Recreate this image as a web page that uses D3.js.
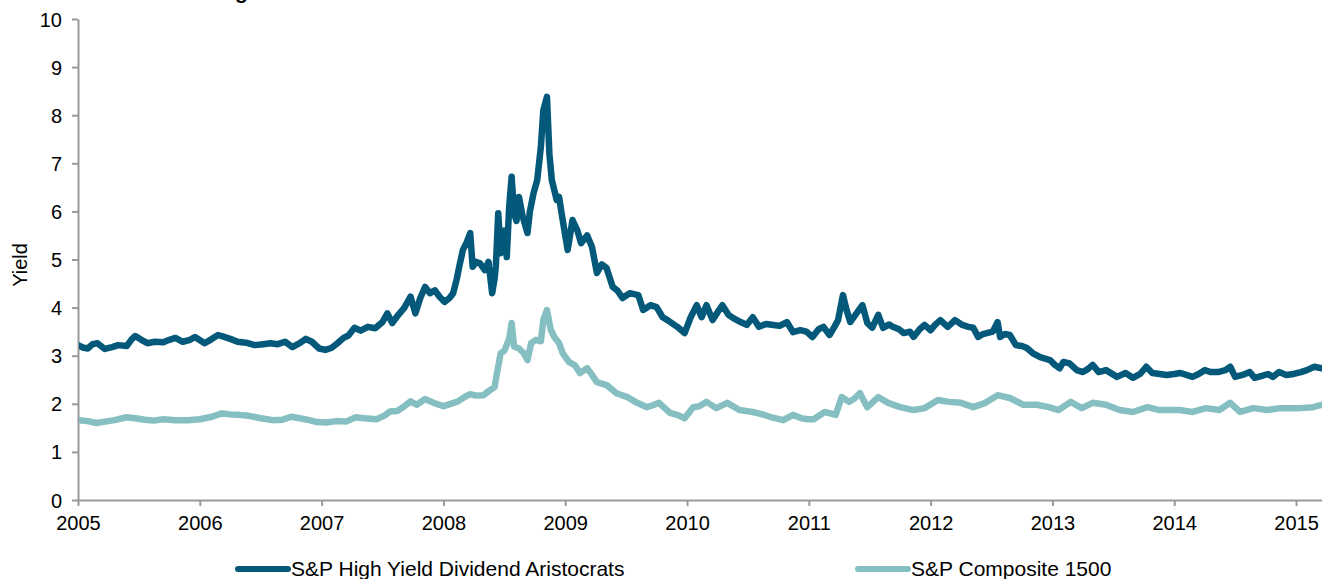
<!DOCTYPE html>
<html><head><meta charset="utf-8">
<script src="https://cdn.jsdelivr.net/npm/d3@7"></script>
<style>
html,body{margin:0;padding:0;background:#fff;overflow:hidden}
text{font-family:"Liberation Sans",Arial,sans-serif;fill:#000}
</style></head>
<body><svg id="c" width="1322" height="579"></svg>
<script>
const seriesNames = ["S&P High Yield Dividend Aristocrats", "S&P Composite 1500"];
const seriesColors = ["#04597a", "#86bfc1"];
const yTicks = [0,1,2,3,4,5,6,7,8,9,10];
const xTicks = [2005,2006,2007,2008,2009,2010,2011,2012,2013,2014,2015];

const hydaDates = [2005.00,2005.04,2005.08,2005.12,2005.16,2005.22,2005.28,2005.33,2005.40,2005.44,2005.47,2005.52,2005.57,2005.63,2005.70,2005.75,2005.80,2005.86,2005.92,2005.96,
2006.04,2006.10,2006.15,2006.20,2006.25,2006.31,2006.38,2006.45,2006.52,2006.58,2006.64,2006.70,2006.76,2006.82,2006.87,2006.92,2006.98,
2007.03,2007.08,2007.13,2007.18,2007.22,2007.27,2007.32,2007.38,2007.44,2007.50,2007.54,2007.58,2007.63,2007.68,2007.73,2007.77,2007.81,2007.85,2007.89,2007.93,2007.97,
2008.01,2008.05,2008.08,2008.11,2008.13,2008.16,2008.19,2008.22,2008.24,2008.27,2008.30,2008.34,2008.37,2008.40,2008.42,2008.43,2008.45,2008.47,2008.50,2008.52,2008.54,2008.56,2008.58,2008.60,2008.62,2008.65,2008.69,2008.71,2008.74,2008.77,2008.80,2008.82,2008.85,2008.87,2008.89,2008.93,2008.95,2008.97,
2009.02,2009.06,2009.10,2009.13,2009.18,2009.22,2009.26,2009.30,2009.34,2009.39,2009.43,2009.47,2009.53,2009.60,2009.64,2009.70,2009.75,2009.80,2009.84,2009.92,2009.98,
2010.03,2010.08,2010.12,2010.16,2010.21,2010.25,2010.29,2010.34,2010.38,2010.44,2010.49,2010.54,2010.59,2010.65,2010.71,2010.76,2010.82,2010.87,2010.93,2010.98,
2011.03,2011.08,2011.12,2011.17,2011.21,2011.24,2011.28,2011.31,2011.34,2011.40,2011.44,2011.48,2011.52,2011.57,2011.61,2011.66,2011.69,2011.74,2011.78,2011.83,2011.86,2011.91,2011.95,
2012.00,2012.04,2012.08,2012.14,2012.20,2012.26,2012.31,2012.35,2012.39,2012.43,2012.46,2012.51,2012.55,2012.57,2012.61,2012.65,2012.70,2012.75,2012.79,2012.84,2012.90,2012.98,
2013.02,2013.06,2013.09,2013.14,2013.20,2013.25,2013.29,2013.33,2013.38,2013.44,2013.53,2013.60,2013.66,2013.72,2013.77,2013.82,2013.88,2013.94,
2014.00,2014.05,2014.10,2014.15,2014.20,2014.25,2014.30,2014.36,2014.42,2014.46,2014.50,2014.56,2014.62,2014.66,2014.72,2014.77,2014.81,2014.86,2014.92,2014.98,
2015.04,2015.09,2015.15,2015.21];
const hydaValues = [3.22,3.17,3.15,3.24,3.26,3.14,3.18,3.22,3.20,3.34,3.41,3.33,3.26,3.29,3.28,3.33,3.37,3.29,3.33,3.39,
3.26,3.35,3.43,3.39,3.35,3.29,3.27,3.22,3.24,3.26,3.24,3.29,3.18,3.26,3.35,3.29,3.15,
3.12,3.16,3.26,3.37,3.42,3.58,3.52,3.60,3.57,3.70,3.88,3.68,3.85,4.00,4.23,3.88,4.20,4.43,4.30,4.36,4.22,
4.12,4.20,4.30,4.60,4.85,5.20,5.35,5.55,4.85,4.95,4.92,4.78,4.95,4.30,4.60,4.85,5.96,5.13,5.60,5.05,6.10,6.72,5.96,5.80,6.30,5.90,5.55,6.00,6.38,6.65,7.34,8.10,8.38,7.20,6.65,6.24,6.30,5.96,
5.20,5.82,5.60,5.34,5.50,5.26,4.72,4.90,4.82,4.43,4.35,4.20,4.30,4.26,3.95,4.05,4.01,3.80,3.74,3.60,3.47,
3.80,4.05,3.80,4.05,3.74,3.90,4.05,3.85,3.78,3.70,3.64,3.80,3.60,3.66,3.64,3.62,3.70,3.49,3.53,3.50,
3.39,3.55,3.60,3.43,3.60,3.74,4.26,3.95,3.70,3.91,4.05,3.68,3.58,3.85,3.58,3.65,3.60,3.55,3.47,3.50,3.39,3.55,3.64,
3.53,3.65,3.74,3.60,3.74,3.64,3.60,3.58,3.39,3.45,3.47,3.50,3.70,3.39,3.45,3.43,3.22,3.20,3.16,3.05,2.97,2.91,
2.81,2.74,2.87,2.84,2.70,2.66,2.72,2.81,2.66,2.70,2.56,2.64,2.54,2.62,2.77,2.64,2.62,2.60,
2.62,2.64,2.60,2.56,2.62,2.70,2.66,2.66,2.70,2.77,2.56,2.60,2.66,2.54,2.58,2.62,2.56,2.66,2.60,2.62,
2.66,2.70,2.77,2.74];

const compDates = [2005.00,2005.08,2005.15,2005.22,2005.30,2005.40,2005.47,2005.55,2005.62,2005.70,2005.80,2005.90,
2006.00,2006.10,2006.18,2006.25,2006.32,2006.40,2006.50,2006.60,2006.68,2006.75,2006.82,2006.90,2006.96,
2007.04,2007.12,2007.20,2007.28,2007.35,2007.45,2007.52,2007.56,2007.62,2007.68,2007.73,2007.78,2007.85,2007.92,
2008.00,2008.06,2008.12,2008.18,2008.22,2008.27,2008.33,2008.38,2008.42,2008.44,2008.47,2008.50,2008.54,2008.56,2008.58,2008.62,2008.66,2008.69,2008.72,2008.76,2008.80,2008.82,2008.85,2008.88,2008.91,2008.95,2008.98,
2009.03,2009.08,2009.12,2009.18,2009.22,2009.26,2009.34,2009.42,2009.51,2009.59,2009.67,2009.72,2009.77,2009.86,2009.93,2009.98,
2010.05,2010.10,2010.16,2010.24,2010.33,2010.43,2010.54,2010.62,2010.68,2010.79,2010.87,2010.94,2010.99,
2011.04,2011.13,2011.22,2011.27,2011.33,2011.37,2011.42,2011.48,2011.57,2011.65,2011.75,2011.86,2011.95,
2012.06,2012.15,2012.25,2012.35,2012.45,2012.55,2012.65,2012.76,2012.87,2012.97,
2013.05,2013.15,2013.24,2013.33,2013.44,2013.55,2013.66,2013.78,2013.88,
2014.04,2014.15,2014.26,2014.37,2014.46,2014.54,2014.65,2014.76,2014.87,
2015.03,2015.14,2015.21];
const compValues = [1.66,1.64,1.60,1.63,1.66,1.72,1.70,1.67,1.65,1.68,1.66,1.66,
1.68,1.73,1.80,1.78,1.77,1.75,1.70,1.66,1.67,1.73,1.70,1.66,1.62,
1.61,1.64,1.63,1.72,1.70,1.68,1.76,1.84,1.85,1.95,2.05,1.98,2.10,2.02,
1.95,2.00,2.05,2.15,2.20,2.17,2.18,2.28,2.35,2.64,3.05,3.10,3.35,3.68,3.19,3.15,3.05,2.91,3.26,3.33,3.30,3.74,3.95,3.55,3.39,3.26,3.05,
2.87,2.80,2.64,2.74,2.60,2.45,2.39,2.22,2.14,2.02,1.93,1.97,2.02,1.81,1.76,1.70,
1.93,1.95,2.04,1.91,2.02,1.87,1.83,1.78,1.73,1.66,1.77,1.70,1.68,
1.68,1.83,1.77,2.14,2.04,2.10,2.22,1.93,2.14,2.02,1.93,1.87,1.91,
2.08,2.04,2.02,1.93,2.02,2.18,2.12,1.98,1.98,1.93,
1.87,2.04,1.91,2.02,1.98,1.87,1.83,1.93,1.87,
1.87,1.83,1.91,1.87,2.02,1.83,1.91,1.87,1.91,
1.91,1.93,1.98];

const svg = d3.select("#c");
const x = d3.scaleLinear().domain([2005, 2015.213]).range([78, 1322]);
const y = d3.scaleLinear().domain([0, 10]).range([500, 19]);

// clipped title (only the descender shows, as in the reference)
svg.append("text").attr("x", 235).attr("y", -1.5)
  .style("font-weight", "bold").style("font-size", "21px").text("g");

const yAxis = svg.append("g").attr("transform", "translate(78,0)")
  .call(d3.axisLeft(y).tickValues(yTicks).tickFormat(d3.format("d")).tickSize(6).tickSizeOuter(0));
const xAxis = svg.append("g").attr("transform", "translate(0,500)")
  .call(d3.axisBottom(x).tickValues(xTicks).tickFormat(d3.format("d")).tickSize(6).tickSizeOuter(0));
[yAxis, xAxis].forEach(a => {
  a.select(".domain").attr("stroke", "#9a9a9a").attr("stroke-width", 2);
  a.selectAll(".tick line").attr("stroke", "#9a9a9a").attr("stroke-width", 2);
  a.selectAll("text").style("font-size", "20px").attr("fill", "#000")
    .style("font-family", '"Liberation Sans",Arial,sans-serif');
});
yAxis.selectAll("text").attr("x", -16).attr("dy", "0.35em");
xAxis.selectAll("text").attr("y", 16).attr("dy", "0.71em");

svg.append("text").attr("transform", "translate(27,265) rotate(-90)")
  .attr("text-anchor", "middle").style("font-size", "20px").text("Yield");

svg.append("clipPath").attr("id", "pc").append("rect")
  .attr("x", 79).attr("y", 0).attr("width", 1243).attr("height", 498);

const line = d3.line().x(d => x(d[0])).y(d => y(d[1]));
const s1 = hydaDates.map((d, i) => [d, hydaValues[i]]);
const s2 = compDates.map((d, i) => [d, compValues[i]]);
const g = svg.append("g").attr("clip-path", "url(#pc)");
g.append("path").datum(s2).attr("d", line).attr("fill", "none")
  .attr("stroke", seriesColors[1]).attr("stroke-width", 6.5)
  .attr("stroke-linejoin", "round").attr("stroke-linecap", "round");
g.append("path").datum(s1).attr("d", line).attr("fill", "none")
  .attr("stroke", seriesColors[0]).attr("stroke-width", 6.5)
  .attr("stroke-linejoin", "round").attr("stroke-linecap", "round");

const legX = [238, 858];
seriesNames.forEach((n, i) => {
  svg.append("line").attr("x1", legX[i]).attr("x2", legX[i] + 50)
    .attr("y1", 569).attr("y2", 569).attr("stroke", seriesColors[i])
    .attr("stroke-width", 6).attr("stroke-linecap", "round");
  svg.append("text").attr("x", legX[i] + 53).attr("y", 576)
    .style("font-size", "21px").text(n);
});
</script></body></html>
